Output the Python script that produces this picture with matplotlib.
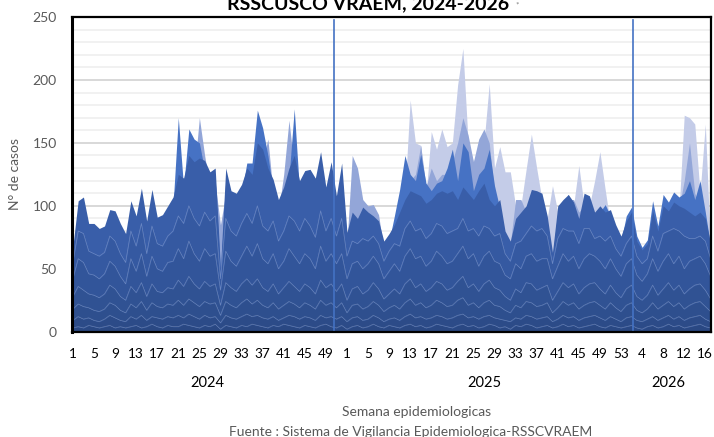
import numpy as np
import matplotlib
matplotlib.use('Agg')
import matplotlib.pyplot as plt
import matplotlib.transforms as mtransforms

plt.rcParams['font.family'] = ['Lato', 'DejaVu Sans']

# ---------------- data ----------------
weeks_2024 = list(range(1, 53))
weeks_2025 = list(range(1, 54))
weeks_2026 = list(range(1, 18))
years = ['2024', '2025', '2026']
week_labels = [str(w) for w in weeks_2024 + weeks_2025 + weeks_2026]

# top of the dark stacked block
dark_top = [68,104,107,86,86,82,84,97,96,86,
            78,104,92,114,88,113,91,93,100,107,
            125,122,140,135,138,136,127,130,50,130,
            112,110,117,130,125,150,145,130,121,105,
            115,130,140,120,128,129,122,143,115,135,
            108,134,79,95,90,99,95,92,88,72,
            78,85,95,105,112,110,108,102,105,110,
            112,110,112,105,115,110,105,112,118,105,
            100,105,80,72,90,95,100,113,112,110,
            92,63,100,105,109,103,90,110,108,95,
            100,95,97,85,76,88,95,72,65,70,
            96,80,100,96,103,100,98,95,92,95,
            90,70]

# inner boundaries of the dark block (cumulative heights)
b1 = [3,4,3,5,4,3,4,5,3,4, 3,4,5,3,4,6,4,3,5,4, 4,6,5,4,3,5,4,6,2,5,
      4,3,5,4,6,5,4,3,5,4, 6,5,4,3,5,4,3,5,6,4, 3,5,2,4,5,3,4,6,4,3,
      5,4,3,5,6,4,5,3,4,6, 5,4,3,5,6,4,5,3,4,6, 5,3,4,2,5,4,6,5,3,4,
      5,3,4,6,4,5,3,4,5,6, 4,3,5,4,3,4,5,3,2,4, 5,3,4,6,4,5,3,4,5,6, 4,3]
b2 = [9,12,10,11,9,8,10,13,11,9, 8,12,10,13,9,12,11,10,12,11, 13,11,14,12,10,13,11,12,7,13,
      11,10,12,14,12,13,11,10,12,9, 11,13,12,10,12,11,9,13,11,12, 10,12,8,11,12,9,10,13,11,8,
      10,11,9,12,14,11,12,10,11,13, 12,10,11,13,14,11,12,10,12,13, 11,10,9,8,11,10,13,12,10,11,
      12,8,10,13,11,12,9,11,12,13, 11,9,12,10,8,11,12,9,8,10, 12,9,11,13,10,12,9,11,12,13, 10,8]
b3 = [18,22,20,19,17,16,18,23,21,17, 15,22,19,24,17,23,20,19,22,21, 25,21,26,23,20,24,22,23,13,24,
      21,19,23,26,22,25,21,19,23,18, 21,24,22,19,23,21,18,25,21,23, 19,23,15,21,22,18,20,24,21,16,
      19,21,18,23,26,21,23,19,21,25, 23,20,21,25,27,21,23,19,23,25, 21,20,17,15,21,19,24,23,20,21,
      23,15,19,24,21,23,18,21,23,24, 21,18,23,19,16,21,23,17,15,18, 23,18,21,24,20,23,18,21,23,24, 20,16]
b4 = [28,36,33,30,29,27,30,37,34,28, 25,36,31,39,28,38,32,31,35,34, 41,36,44,38,34,40,36,38,21,39,
      35,32,38,42,37,42,35,32,38,30, 35,40,36,32,38,35,30,41,35,38, 32,38,25,34,36,30,33,39,34,26,
      30,34,30,38,42,35,38,32,35,40, 38,33,35,40,44,35,38,32,38,41, 35,33,28,25,34,31,39,38,33,35,
      37,25,32,39,35,38,30,35,38,39, 34,30,37,31,27,34,37,28,25,29, 37,29,34,39,33,37,30,34,37,38, 33,26]
b5 = [42,58,55,46,45,42,46,56,52,44, 38,58,48,62,44,60,50,48,55,56, 66,58,72,62,56,66,60,62,33,64,
      56,52,60,68,60,70,58,54,62,50, 56,66,60,54,62,58,50,68,56,62, 54,62,42,54,56,50,54,60,54,42,
      48,54,48,60,66,58,60,52,56,64, 60,54,56,62,68,58,62,52,60,64, 56,54,45,42,54,50,60,62,56,58,
      58,42,52,62,56,60,50,58,62,60, 56,50,58,50,44,54,58,45,40,46, 58,48,56,62,54,60,50,56,58,60, 54,44]
b6 = [55,80,78,64,62,60,63,76,72,62, 55,80,68,86,62,84,70,68,76,80, 92,86,100,90,84,95,88,92,42,90,
      80,76,86,94,86,100,84,80,88,72, 80,92,88,80,90,84,75,96,80,90, 76,90,60,72,70,74,72,76,70,56,
      64,70,68,82,88,80,82,74,78,86, 84,78,80,82,90,80,82,76,84,82, 76,78,62,56,70,72,78,84,80,82,
      76,54,74,82,80,80,70,82,82,74, 76,72,76,66,60,70,76,60,54,58, 76,64,78,80,82,80,76,74,74,76, 72,58]

# overlapping background series (drawn behind the dark block)
medium_blue = [60,95,100,80,80,75,78,90,88,80,
               70,95,85,105,80,105,85,85,92,100,
               170,115,161,153,150,128,120,122,45,120,
               105,102,110,134,134,176,162,140,112,98,
               108,122,177,112,120,120,115,135,108,128,
               100,126,72,88,85,92,88,85,80,66,
               72,92,113,140,125,120,141,118,112,118,
               120,130,145,120,150,143,112,125,130,145,
               116,98,74,68,85,90,95,105,106,102,
               86,58,95,100,109,97,85,104,102,88,
               95,101,92,80,72,92,99,76,67,73,
               104,84,109,103,111,107,110,120,105,120,
               95,68]
mid_lavender = [55,90,95,75,75,70,72,85,82,75,
                65,90,80,100,75,100,80,80,88,95,
                120,110,130,125,170,140,115,118,85,110,
                100,95,105,120,118,140,135,153,110,95,
                125,168,130,108,115,115,110,130,100,120,
                95,120,70,140,130,105,100,101,93,65,
                70,85,100,120,120,125,148,115,130,120,
                125,125,135,150,170,156,135,153,161,150,
                110,100,75,70,105,105,95,110,105,100,
                85,60,95,100,105,105,95,100,100,90,
                95,95,90,78,70,85,90,70,62,68,
                95,80,98,95,100,98,120,150,110,100,
                90,65]
light_lavender = [50,85,90,70,70,65,68,80,78,70,
                  60,85,75,95,70,95,75,75,82,90,
                  110,100,120,115,120,115,105,110,40,100,
                  95,90,100,110,110,130,125,120,105,90,
                  100,110,120,100,110,110,105,120,95,110,
                  90,110,65,110,110,95,90,90,85,60,
                  65,80,95,110,184,150,148,108,159,145,
                  161,147,150,196,225,150,135,145,150,197,
                  130,147,127,127,100,100,129,157,130,105,
                  90,116,95,100,100,100,132,100,100,120,
                  143,113,85,75,68,80,85,65,60,65,
                  90,75,95,90,100,95,172,170,165,110,
                  165,65]

separators = [49.55, 106.3]   # vertical marker lines (category units)
separator_top = 248

# ---------------- figure ----------------
W, H = 714, 437
fig = plt.figure(figsize=(W/100, H/100), dpi=100)
ax = fig.add_axes([72/W, (H-331.7)/H, (711-72)/W, (331.7-17)/H])

n = len(week_labels)
x = np.arange(n)

ax.fill_between(x, 0, light_lavender, color='#C4CCE8', lw=0, zorder=2)
ax.fill_between(x, 0, mid_lavender, color='#93A6D8', lw=0, zorder=3)
ax.fill_between(x, 0, medium_blue, color='#4672C4', lw=0, zorder=4)

bounds = [np.zeros(n), b1, b2, b3, b4, b5, b6, dark_top]
dark_cols = ['#2A4883', '#2C4B88', '#2E4F8E', '#305293', '#32559A', '#3559A1', '#395EA9']
for i in range(len(bounds)-1):
    ax.fill_between(x, bounds[i], bounds[i+1], color=dark_cols[i], lw=0, zorder=5)
for bb in bounds[1:-1]:
    ax.plot(x, bb, color='#C8D2EE', lw=0.5, alpha=0.35, zorder=6)

for s in separators:
    ax.plot([s, s], [0, separator_top], color='#4472C4', lw=1.2, zorder=7)

ax.set_xlim(-0.17, n - 1 + 0.08)
ax.set_ylim(0, 250)

ax.set_yticks(range(0, 251, 50))
ax.set_yticks([v for v in range(10, 250, 10) if v % 50], minor=True)
ax.grid(axis='y', which='major', color='#D6D6D6', lw=1.3, zorder=0)
ax.grid(axis='y', which='minor', color='#EFEFEF', lw=1.2, zorder=0)
ax.set_axisbelow(True)

ax.set_xticks(x[::4])
ax.set_xticklabels(week_labels[::4], fontsize=9.8, color='black')
ax.tick_params(axis='x', length=0, pad=12)
ax.tick_params(axis='y', which='both', length=0, pad=11, labelsize=10, labelcolor='#595959')

for sp in ax.spines.values():
    sp.set_color('black')
    sp.set_linewidth(1.6)
    sp.set_zorder(10)
ax.spines['left'].set_linewidth(2.2)

# year labels
trans = mtransforms.blended_transform_factory(ax.transData, fig.transFigure)
start = 0
for yr, wk in zip(years, [weeks_2024, weeks_2025, weeks_2026]):
    c = start + (len(wk) - 1) / 2
    ax.text(c, (H-383)/H, yr, transform=trans, ha='center', va='center', fontsize=10.5, color='black')
    start += len(wk)

ax.set_ylabel('N° de casos', fontsize=10, color='#595959')
ax.yaxis.set_label_coords(-0.08, 0.5)

fig.text(417/W, (H-412)/H, 'Semana epidemiologicas', ha='center', va='center', fontsize=10, color='#595959')
fig.text(411/W, (H-432)/H, 'Fuente : Sistema de Vigilancia Epidemiologica-RSSCVRAEM', ha='center', va='center',
         fontsize=10, color='#595959')

fig.text(368/W, (H-9)/H, 'RSSCUSCO VRAEM, 2024-2026', ha='center', va='baseline', fontsize=14,
         fontweight='bold', color='black')
fig.text(517/W, (H-8)/H, '*', ha='center', va='baseline', fontsize=6, color='#7F7F7F')

fig.savefig('out.png', dpi=100)
